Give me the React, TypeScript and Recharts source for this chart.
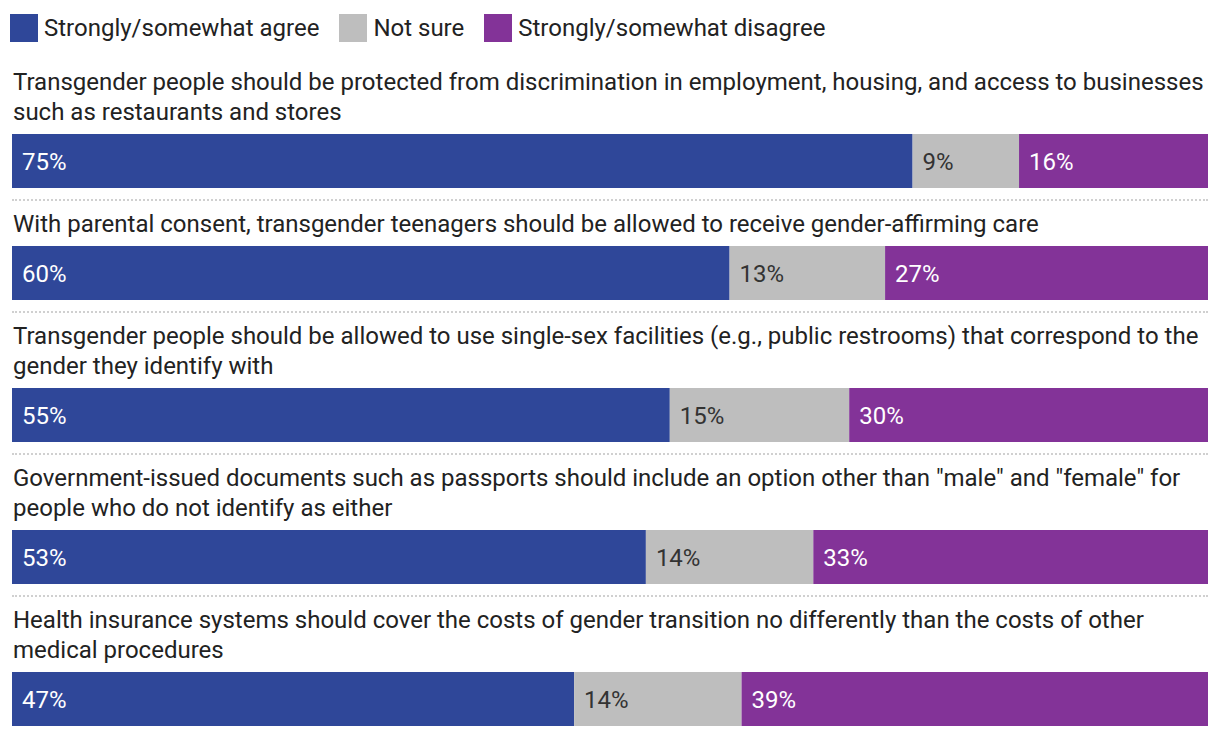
import React from 'react';
import { BarChart, Bar, XAxis, YAxis, LabelList } from 'recharts';

// statements, split into the lines they wrap to in the reference
const statements = [
  ['Transgender people should be protected from discrimination in employment, housing, and access to businesses', 'such as restaurants and stores'],
  ['With parental consent, transgender teenagers should be allowed to receive gender-affirming care'],
  ['Transgender people should be allowed to use single-sex facilities (e.g., public restrooms) that correspond to the', 'gender they identify with'],
  ['Government-issued documents such as passports should include an option other than "male" and "female" for', 'people who do not identify as either'],
  ['Health insurance systems should cover the costs of gender transition no differently than the costs of other', 'medical procedures'],
];

const agree = [75.3, 60, 55, 53, 47];
const notSure = [8.9, 13, 15, 14, 14];
const disagree = [15.8, 27, 30, 33, 39];

const seriesNames = ['Strongly/somewhat agree', 'Not sure', 'Strongly/somewhat disagree'];
const seriesKeys = ['agree', 'notSure', 'disagree'];

const COLORS = ['#2f4799', '#bebebe', '#833398'];
const LABEL_COLORS = ['#ffffff', '#333333', '#ffffff'];

const WIDTH = 1196;
const FONT = 'Roboto, "Noto Sans", sans-serif';
const TEXT = '#222222';

function Legend() {
  return (
    <div style={{ display: 'flex', alignItems: 'center', height: 40, marginLeft: -2 }}>
      {seriesNames.map((name, i) => (
        <div key={name} style={{ display: 'flex', alignItems: 'center', marginRight: 20 }}>
          <div style={{ width: 28, height: 28, background: COLORS[i], marginRight: 6 }} />
          <span style={{ fontSize: 24, color: TEXT }}>{name}</span>
        </div>
      ))}
    </div>
  );
}

function Row({ index }: { index: number }) {
  const data = [
    { name: 'row', agree: agree[index], notSure: notSure[index], disagree: disagree[index] },
  ];
  const last = index === statements.length - 1;
  return (
    <div>
      <div style={{ fontSize: 24, lineHeight: '30px', color: TEXT, marginBottom: 7, marginLeft: 1, whiteSpace: 'nowrap' }}>
        {statements[index].map((line) => (
          <div key={line}>{line}</div>
        ))}
      </div>
      <BarChart
        width={WIDTH}
        height={54}
        data={data}
        layout="vertical"
        margin={{ top: 0, right: 0, bottom: 0, left: 0 }}
        barCategoryGap={0}
      >
        <XAxis type="number" domain={[0, 100]} hide />
        <YAxis type="category" dataKey="name" hide />
        {seriesKeys.map((key, i) => (
          <Bar key={key} dataKey={key} stackId="a" fill={COLORS[i]} isAnimationActive={false}>
            <LabelList
              dataKey={key}
              position="insideLeft"
              offset={10}
              formatter={(v: number) => `${Math.round(v)}%`}
              style={{ fill: LABEL_COLORS[i], fontSize: 24, fontFamily: FONT }}
            />
          </Bar>
        ))}
      </BarChart>
      {!last && (
        <div style={{ marginTop: 11, marginBottom: 8, borderTop: '2px dotted #d0d0d0', width: WIDTH }} />
      )}
    </div>
  );
}

export default function App() {
  return (
    <div style={{ fontFamily: FONT, width: WIDTH, marginLeft: 4 }}>
      <Legend />
      <div style={{ height: 19 }} />
      {statements.map((_, i) => (
        <Row key={i} index={i} />
      ))}
    </div>
  );
}
